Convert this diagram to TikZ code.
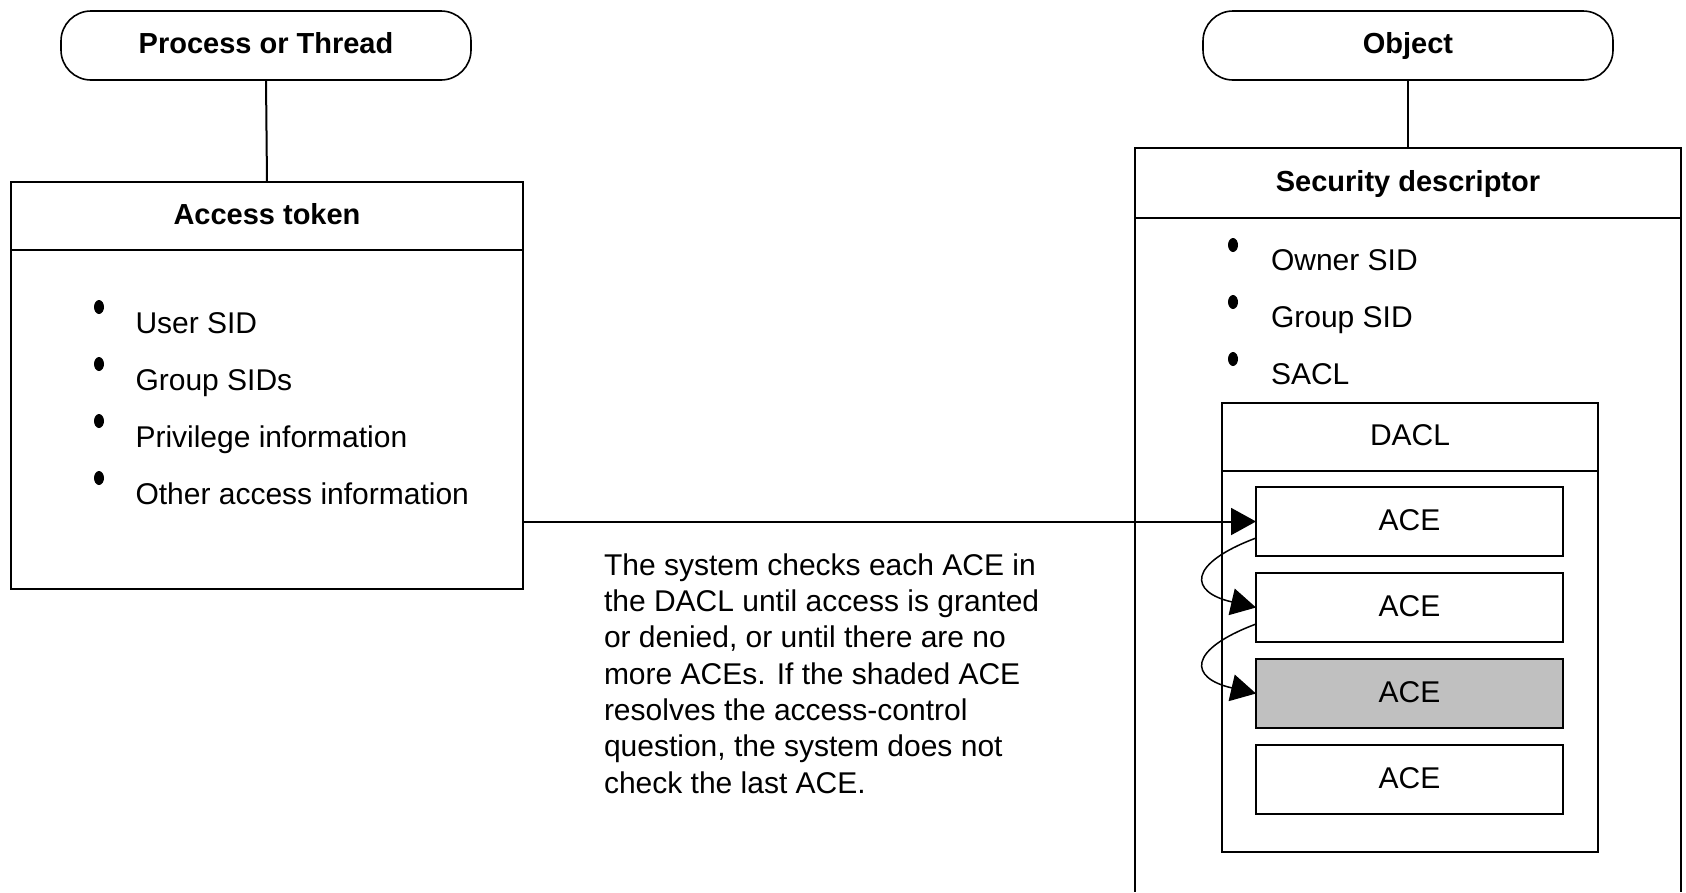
\documentclass[tikz,border=0pt]{standalone}
\usepackage{fontspec}
\setmainfont{Liberation Sans}
\usetikzlibrary{arrows.meta}
\newcommand\mytitlefont{\fontsize{29}{34}\selectfont\bfseries}
\newcommand\mybodyfont{\fontsize{30}{36.3}\selectfont}
\begin{document}
\begin{tikzpicture}[x=1pt,y=-1pt,
  every node/.style={inner sep=0pt, outer sep=0pt},
  line/.style={line width=2pt},
  pill/.style={draw, line width=1.6pt, rounded corners=30pt, minimum width=410pt, minimum height=69pt,
    font=\mytitlefont, text height=21pt, text depth=6pt},
  hdr/.style={draw, line width=2pt, font=\mytitlefont, text height=21pt, text depth=5pt},
  plainhdr/.style={draw, line width=2pt, font=\mybodyfont, text height=21.5pt, text depth=4pt},
  acebox/.style={draw, line width=2pt, minimum width=307pt, minimum height=69pt,
    font=\mybodyfont, text height=21.5pt, text depth=4pt},
  item/.style={anchor=base west, font=\mybodyfont},
  bul/.style={fill=black},
  tip/.style={-{Triangle[length=25pt,width=27pt]}},
  curvy/.style={line width=1.5pt, tip},
]
\useasboundingbox (0,0) rectangle (1686,892);

% left side
\node[pill] (proc) at (266,45.5) {Process or Thread};
\node[draw, line width=2pt, minimum width=512pt, minimum height=407pt] (tok) at (267,385.5) {};
\node[hdr, minimum width=512pt, minimum height=68pt, anchor=north] (tokhd) at (tok.north) {Access token};
\draw[line] (proc.south) -- (tokhd.north);

\fill[bul] (99,307) ellipse [x radius=5, y radius=7];
\fill[bul] (99,364) ellipse [x radius=5, y radius=7];
\fill[bul] (99,421) ellipse [x radius=5, y radius=7];
\fill[bul] (99,478) ellipse [x radius=5, y radius=7];
\node[item] (t1) at (135.5,333) {User SID};
\node[item] (t2) at (135.5,390) {Group SIDs};
\node[item] (t3) at (135.5,447) {Privilege information};
\node[item] (t4) at (135.5,504) {Other access information};

% right side
\node[pill] (obj) at (1408,45.5) {Object};
\node[hdr, minimum width=546pt, minimum height=70pt] (sdhd) at (1408,183) {Security descriptor};
\coordinate (sdbl) at (1135,892);
\coordinate (sdbr) at (1681,892);
\draw[line] (sdhd.south west) -- (sdbl);
\draw[line] (sdhd.south east) -- (sdbr);
\draw[line] (obj.south) -- (sdhd.north);

\fill[bul] (1233,245) ellipse [x radius=5, y radius=7];
\fill[bul] (1233,302) ellipse [x radius=5, y radius=7];
\fill[bul] (1233,359) ellipse [x radius=5, y radius=7];
\node[item] (s1) at (1271,270) {Owner SID};
\node[item] (s2) at (1271,327) {Group SID};
\node[item] (s3) at (1271,384) {SACL};

\node[draw, line width=2pt, minimum width=376pt, minimum height=449pt] (dacl) at (1410,627.5) {};
\node[plainhdr, minimum width=376pt, minimum height=68pt, anchor=north] (daclhd) at (dacl.north) {DACL};

\node[acebox] (ace1) at (1409.5,521.5) {ACE};
\node[acebox] (ace2) at (1409.5,607.5) {ACE};
\node[acebox, fill={rgb,255:red,192;green,192;blue,192}] (ace3) at (1409.5,693.5) {ACE};
\node[acebox] (ace4) at (1409.5,779.5) {ACE};

\draw[line, tip] (tok.east |- ace1.west) -- (ace1.west);
\draw[curvy] ([yshift=-16.5pt]ace1.west) .. controls (1187,564) and (1189,592) .. (ace2.west);
\draw[curvy] ([yshift=-16.5pt]ace2.west) .. controls (1187,650) and (1189,678) .. (ace3.west);

\node[anchor=north west, align=left, font=\mybodyfont] (note) at (604,553.5)
{The system checks each ACE in\\
the DACL until access is granted\\
or denied, or until there are no\\
more ACEs. If the shaded ACE\\
resolves the access-control\\
question, the system does not\\
check the last ACE.};
\end{tikzpicture}
\end{document}
